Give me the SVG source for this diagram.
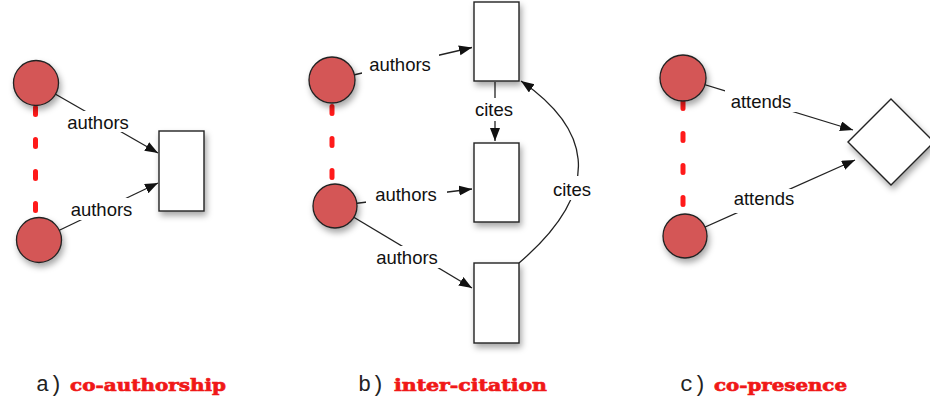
<svg xmlns="http://www.w3.org/2000/svg" width="930" height="402" viewBox="0 0 930 402">
<style>
.person{fill:#d45757;stroke:#222;stroke-width:1.3}
.doc{fill:#fff;stroke:#222;stroke-width:1.4}
.edge{fill:none;stroke:#222;stroke-width:1.3}
.tie{stroke:#ff1a1a;stroke-width:5;stroke-linecap:round;stroke-dasharray:7 25;fill:none}
.lbl{font-family:"Liberation Sans",Arial,sans-serif;font-size:18.5px;fill:#111;text-anchor:middle}
.bg{fill:#fff}
.tag{font-family:"Liberation Mono","Courier New",monospace;font-size:22px;fill:#222}
.cap{font-family:"DejaVu Serif",serif;font-weight:bold;font-size:17.5px;fill:#f01818;stroke:#f01818;stroke-width:0.7}
</style>
<defs>
<marker id="arr" markerUnits="userSpaceOnUse" markerWidth="15" markerHeight="11" refX="13" refY="5" orient="auto">
<path d="M0,0 L13,5 L0,10 z" fill="#111"/>
</marker>
<filter id="sh" x="-30%" y="-30%" width="160%" height="160%">
<feDropShadow dx="2" dy="4" stdDeviation="3" flood-color="#000" flood-opacity="0.35"/>
</filter>
</defs>

<g id="ties">
<line class="tie" x1="35.5" y1="107.5" x2="35.5" y2="212"/>
<line class="tie" x1="332" y1="106.5" x2="332" y2="178"/>
<line class="tie" x1="683" y1="101.5" x2="683" y2="205"/>
</g>

<g id="connectors">
<line class="edge" x1="36" y1="83" x2="158" y2="153" marker-end="url(#arr)"/>
<line class="edge" x1="39" y1="240" x2="158" y2="183" marker-end="url(#arr)"/>
<line class="edge" x1="332" y1="80" x2="472" y2="47.5" marker-end="url(#arr)"/>
<line class="edge" x1="335" y1="206" x2="472" y2="189" marker-end="url(#arr)"/>
<line class="edge" x1="335" y1="206" x2="472" y2="288" marker-end="url(#arr)"/>
<line class="edge" x1="495" y1="82" x2="495" y2="141" marker-end="url(#arr)"/>
<path class="edge" d="M519,263 C610,185 585,125 521,81" marker-end="url(#arr)"/>
<line class="edge" x1="683" y1="78" x2="853" y2="130" marker-end="url(#arr)"/>
<line class="edge" x1="685" y1="236" x2="855" y2="160" marker-end="url(#arr)"/>
</g>

<g id="labels">
<rect class="bg" x="64" y="111" width="70" height="21"/>
<text class="lbl" x="98" y="129">authors</text>
<rect class="bg" x="67" y="198" width="70" height="22"/>
<text class="lbl" x="101.5" y="216">authors</text>
<rect class="bg" x="362" y="53" width="77" height="22"/>
<text class="lbl" x="400" y="71">authors</text>
<rect class="bg" x="366" y="183" width="81" height="22"/>
<text class="lbl" x="406" y="201">authors</text>
<rect class="bg" x="372" y="246" width="70" height="22"/>
<text class="lbl" x="407" y="264">authors</text>
<rect class="bg" x="472" y="98" width="44" height="23"/>
<text class="lbl" x="494" y="116">cites</text>
<rect class="bg" x="550" y="176" width="44" height="24"/>
<text class="lbl" x="572" y="196">cites</text>
<rect class="bg" x="725" y="90" width="73" height="22"/>
<text class="lbl" x="761" y="108">attends</text>
<rect class="bg" x="728" y="189" width="73" height="24"/>
<text class="lbl" x="764" y="205">attends</text>
</g>

<g id="a-author1"><circle class="person" cx="36" cy="83" r="22.5" filter="url(#sh)"/></g>
<g id="a-author2"><circle class="person" cx="39" cy="240" r="22.5" filter="url(#sh)"/></g>
<g id="a-paper"><rect class="doc" x="159" y="131" width="45" height="80" filter="url(#sh)"/></g>

<g id="b-author1"><circle class="person" cx="332" cy="80" r="23" filter="url(#sh)"/></g>
<g id="b-author2"><circle class="person" cx="335" cy="206" r="22" filter="url(#sh)"/></g>
<g id="b-paper1"><rect class="doc" x="474" y="2" width="45" height="79" filter="url(#sh)"/></g>
<g id="b-paper2"><rect class="doc" x="474" y="143" width="45" height="79" filter="url(#sh)"/></g>
<g id="b-paper3"><rect class="doc" x="474" y="263" width="45" height="80" filter="url(#sh)"/></g>

<g id="c-person1"><circle class="person" cx="683" cy="78" r="23" filter="url(#sh)"/></g>
<g id="c-person2"><circle class="person" cx="685" cy="236" r="22" filter="url(#sh)"/></g>
<g id="c-event"><polygon class="doc" points="891,99 934,142 891,185 848,142" filter="url(#sh)"/></g>

<g id="captions">
<text class="tag" x="36" y="391">a)</text>
<text class="cap" x="70" y="391" textLength="156" lengthAdjust="spacingAndGlyphs">co-authorship</text>
<text class="tag" x="358" y="391">b)</text>
<text class="cap" x="394" y="391" textLength="153" lengthAdjust="spacingAndGlyphs">inter-citation</text>
<text class="tag" x="680" y="391">c)</text>
<text class="cap" x="714" y="391" textLength="133" lengthAdjust="spacingAndGlyphs">co-presence</text>
</g>
</svg>
